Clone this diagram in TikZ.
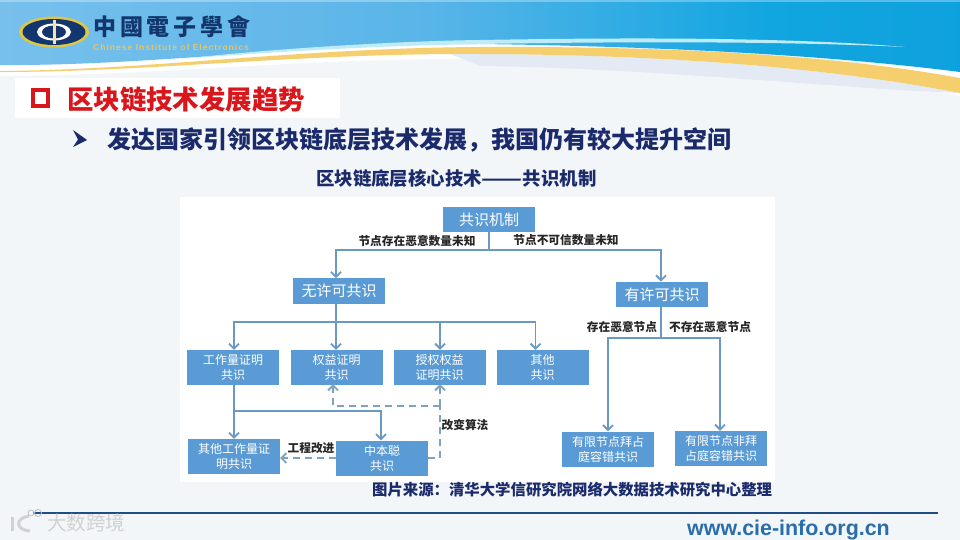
\documentclass[tikz,border=0pt]{standalone}
\usepackage{fontspec}
\usepackage{graphicx}
\setmainfont{Noto Sans CJK SC}
\newfontfamily\tcfont{Noto Sans CJK TC}
\newfontfamily\latinfont{Liberation Sans}
\usetikzlibrary{arrows.meta}
\definecolor{pagebg}{HTML}{F3F6F9}
\definecolor{boxblue}{HTML}{5B9BD5}
\definecolor{linkblue}{HTML}{6A9AC4}
\definecolor{dashblue}{HTML}{7FA3BE}
\definecolor{navy}{HTML}{1B2A6B}
\definecolor{logonavy}{HTML}{14366E}
\definecolor{titlered}{HTML}{D9161C}
\definecolor{gold}{HTML}{F5CE6E}
\definecolor{rulecolor}{HTML}{1F4E85}
\definecolor{urlblue}{HTML}{2A6DAB}
\definecolor{shadowblue}{HTML}{E3EAF3}
\definecolor{paleline}{HTML}{BDEBF7}
\pgfdeclarehorizontalshading{bandshade}{100bp}{
  rgb(0bp)=(0.33,0.66,0.88);
  rgb(21bp)=(0.49,0.76,0.93);
  rgb(47bp)=(0.35,0.71,0.91);
  rgb(65bp)=(0.07,0.65,0.88);
  rgb(100bp)=(0.02,0.59,0.84)}
\tikzset{
  x=1pt,y=-1pt,
  flowbox/.style={draw=none,fill=boxblue,text=white,minimum width=92pt,align=center,inner sep=0pt,font=\fontsize{12}{15}\selectfont},
  bigbox/.style={flowbox,minimum height=25.5pt,font=\fontsize{15}{18}\selectfont},
  smallbox/.style={flowbox,minimum height=35pt},
  link/.style={draw=linkblue,line width=1.9pt},
  linkarrow/.style={link,-{Straight Barb[length=5pt,width=10pt,line width=1.8pt]}},
  dashlink/.style={draw=dashblue,line width=1.9pt,dash pattern=on 7pt off 5pt},
  dasharrow/.style={dashlink,-{Straight Barb[length=5pt,width=10pt,line width=1.8pt]}},
  edgelabel/.style={text=black!85,font=\bfseries\fontsize{11.7}{14}\selectfont,inner sep=0pt},
  heading/.style={inner sep=0pt,anchor=west},
}
\begin{document}
\begin{tikzpicture}
\useasboundingbox (0,0) rectangle (960,540);
% page
\fill[pagebg] (0,0) rectangle (960,540);
% header band: white strip, soft shadow, gold ribbon, blue field, pale line
\fill[white] (0,60) -- (480,40) -- (960,70) -- (960,96) .. controls (850,76) and (700,60) .. (480,59) .. controls (300,58) and (150,76) .. (0,76) -- cycle;
\fill[shadowblue] (450,54) -- (480,54) .. controls (700,55) and (850,72) .. (960,93) .. controls (860,90) and (650,68) .. (480,66) .. controls (470,62) and (460,58) .. (450,54) -- cycle;
\fill[gold] (0,71) .. controls (150,70) and (300,48) .. (480,47) .. controls (700,46) and (850,58) .. (960,78) -- (960,93) .. controls (850,72) and (700,55) .. (480,54) .. controls (300,53) and (150,72) .. (0,72) -- cycle;
\path[shading=bandshade,shading angle=0] (0,0) -- (960,0) -- (960,72) .. controls (850,58) and (700,47) .. (480,44) .. controls (300,44) and (150,66) .. (0,65) -- cycle;
\fill[paleline] (180,59) .. controls (280,48) and (400,41) .. (480,40) .. controls (650,37) and (800,38) .. (905,47) .. controls (800,42) and (650,41) .. (480,44) .. controls (400,45) and (280,51) .. (180,59) -- cycle;
\fill[white,opacity=.3] (0,0) rectangle (960,2);
% logo
\fill[gold!70!yellow!90!black] (54,32) ellipse [x radius=35,y radius=15.5];
\fill[logonavy] (54,32) ellipse [x radius=31.5,y radius=13];
\fill[white] (54,32) ellipse [x radius=17,y radius=8.5];
\fill[logonavy] (54,32) ellipse [x radius=12,y radius=6.5];
\fill[gold!60!white] (52.5,20) rectangle (56,44);
\node[inner sep=0pt,anchor=west,text=logonavy] (society) at (93,27) {\tcfont\bfseries\fontsize{23}{25}\selectfont\addfontfeature{LetterSpace=17}中國電子學會};
\node[inner sep=0pt,anchor=west,text=gold!95!black] (societyen) at (93,47) {\latinfont\bfseries\fontsize{8.5}{9}\selectfont\addfontfeature{LetterSpace=12}Chinese Institute of Electronics};
% headings
\fill[white] (15,78) rectangle (340,118);
\draw[titlered,line width=3.6pt] (32.8,89.8) rectangle (48.2,106.2);
\node[heading,text=titlered] (title) at (67,99) {\bfseries\fontsize{26.4}{30}\selectfont 区块链技术发展趋势};
\fill[navy] (73,130) -- (87,140) -- (73,147) -- (78,139.5) -- cycle;
\node[heading,text=navy] (subtitle) at (107,140) {\bfseries\fontsize{24}{28}\selectfont 发达国家引领区块链底层技术发展，我国仍有较大提升空间};
\node[heading,text=navy] (figtitle) at (316,179) {\bfseries\fontsize{18.4}{20}\selectfont 区块链底层核心技术\resizebox{41pt}{\height}{——}共识机制};
% panel
\fill[white] (180,197) rectangle (775,482);
% nodes
\node[bigbox] (root) at (489,219.5) {共识机制};
\node[bigbox] (noperm) at (339,291) {无许可共识};
\node[bigbox] (perm) at (662,294.5) {有许可共识};
\node[smallbox] (pow) at (233,367.5) {工作量证明\\共识};
\node[smallbox] (pos) at (336.5,367.5) {权益证明\\共识};
\node[smallbox] (dpos) at (439.5,367.5) {授权权益\\证明共识};
\node[smallbox] (other) at (542.5,367.5) {其他\\共识};
\node[smallbox] (otherpow) at (234,456.5) {其他工作量证\\明共识};
\node[smallbox] (nakamoto) at (382,458) {中本聪\\共识};
\node[smallbox] (bft) at (608,449) {有限节点拜占\\庭容错共识};
\node[smallbox] (cft) at (721,448.5) {有限节点非拜\\占庭容错共识};
% junctions
\coordinate (j1) at (489,250);
\coordinate (j2) at (336,322);
\coordinate (j3) at (661,338);
\coordinate (j4) at (234,411);
\coordinate (j5) at (440,406);
\coordinate (j6) at (440,458);
% connectors
\draw[link] (root.south) -- (j1);
\draw[linkarrow] (j1) -| ([xshift=-3pt]noperm.north);
\draw[linkarrow] (j1) -| ([xshift=-1pt]perm.north);
\draw[link] ([xshift=-3pt]noperm.south) -- (j2);
\draw[linkarrow] (j2) -| ([xshift=1pt]pow.north);
\draw[linkarrow] (j2) -- (pos.north -| j2);
\draw[linkarrow] (j2) -| ([xshift=.5pt]dpos.north);
\draw[linkarrow] (j2) -| ([xshift=-7pt]other.north);
\draw[link] ([xshift=-1pt]perm.south) -- (j3);
\draw[linkarrow] (j3) -| (bft.north);
\draw[linkarrow] (j3) -| ([xshift=-1pt]cft.north);
\draw[linkarrow] ([xshift=1pt]pow.south) -- (otherpow.north);
\draw[linkarrow] (j4) -| ([xshift=-1pt]nakamoto.north);
\draw[dasharrow] (nakamoto.west) -- (nakamoto.west -| otherpow.east);
\draw[dashlink] (nakamoto.east) -- (j6) -- (j5);
\draw[dasharrow] (j5) -- ([yshift=1pt,xshift=.5pt]dpos.south);
\draw[dasharrow] (j5) -| ([yshift=1pt,xshift=-3.5pt]pos.south);
% labels
\node[edgelabel] (l1) at (417,241) {节点存在恶意数量未知};
\node[edgelabel] (l2) at (566,240.5) {节点不可信数量未知};
\node[edgelabel] (l3) at (622,327) {存在恶意节点};
\node[edgelabel] (l4) at (710,327) {不存在恶意节点};
\node[edgelabel] (l5) at (311,448) {工程改进};
\node[edgelabel] (l6) at (465,425) {改变算法};
\node[heading,text=navy] (source) at (372,490) {\bfseries\fontsize{15.38}{18}\selectfont 图片来源：清华大学信研究院网络大数据技术研究中心整理};
% footer
\coordinate (r1) at (33,512.7);
\coordinate (r2) at (938,512.7);
\draw[rulecolor,line width=2pt] (r1) -- (r2);
\node[inner sep=0pt,anchor=west,text=urlblue] (url) at (687,530) {\latinfont\bfseries\fontsize{21.4}{23}\selectfont www.cie-info.org.cn};
% watermark
\draw[white!82!black,line width=3pt] (12,517) -- (12,531);
\draw[white!82!black,line width=3pt] (29,516) .. controls (15,518) and (15,530) .. (30,531);
\draw[white!75!black,line width=.8pt] (31,513) circle (3);
\draw[white!75!black,line width=.8pt] (38,513) circle (3.5);
\node[inner sep=0pt,anchor=west,text=white!82!black] (mark) at (47,523) {\fontsize{19.5}{22}\selectfont 大数跨境};
\end{tikzpicture}
\end{document}
